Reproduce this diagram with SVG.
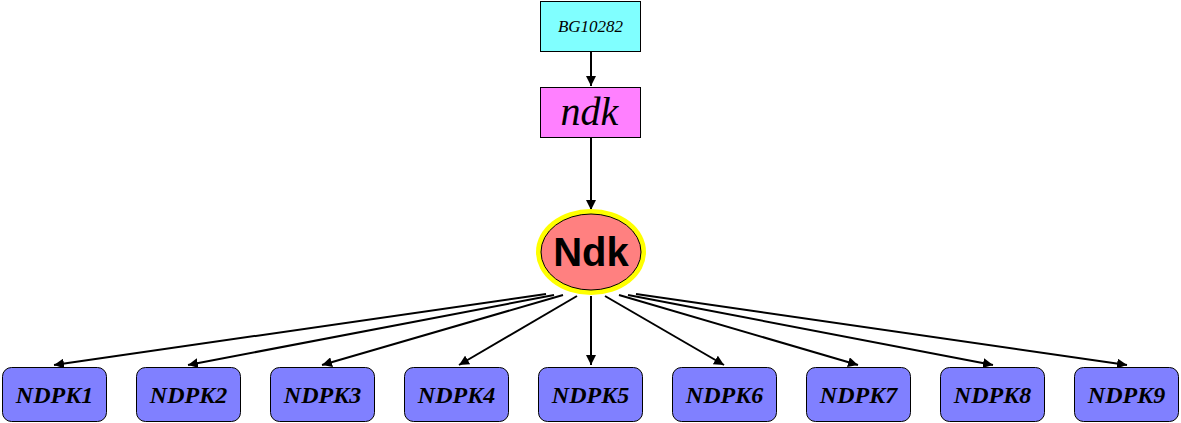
<svg xmlns="http://www.w3.org/2000/svg" width="1181" height="423" viewBox="0 0 1181 423">
<style>
.box{stroke:#000;stroke-width:1}
.gene{fill:#ff80ff}
.src{fill:#80ffff}
.prod{fill:#8080ff;stroke:#000;stroke-width:1}
.edge{stroke:#000;stroke-width:2;fill:none;marker-end:url(#arr)}
.lbl{font-family:"Liberation Serif",serif;font-style:italic;fill:#000;text-anchor:middle}
.plbl{font-family:"Liberation Serif",serif;font-style:italic;font-weight:bold;font-size:24px;fill:#000;text-anchor:middle}
</style>
<defs>
<marker id="arr" viewBox="0 0 10 10" refX="10" refY="5" markerWidth="5" markerHeight="5" orient="auto" markerUnits="strokeWidth">
<path d="M0,0 L10,5 L0,10 z" fill="#000"/>
</marker>
</defs>
<g id="connectors">
<line class="edge" x1="591" y1="51" x2="591" y2="86"/>
<line class="edge" x1="591" y1="137" x2="591" y2="210"/>
<line class="edge" x1="546" y1="294" x2="54" y2="365"/>
<line class="edge" x1="554" y1="295" x2="188" y2="365"/>
<line class="edge" x1="563" y1="295" x2="322" y2="365"/>
<line class="edge" x1="577" y1="296" x2="459" y2="365"/>
<line class="edge" x1="591" y1="296" x2="591" y2="365"/>
<line class="edge" x1="605" y1="296" x2="724" y2="365"/>
<line class="edge" x1="619" y1="295" x2="858" y2="365"/>
<line class="edge" x1="628" y1="295" x2="993" y2="365"/>
<line class="edge" x1="636" y1="294" x2="1127" y2="365"/>
</g>
<g id="BG10282">
<rect class="box src" x="540.5" y="1.5" width="100" height="50"/>
<text class="lbl" x="590.5" y="32" font-size="17">BG10282</text>
</g>
<g id="ndk">
<rect class="box gene" x="540.5" y="87.5" width="100" height="50"/>
<text class="lbl" x="589.5" y="125" font-size="40">ndk</text>
</g>
<g id="Ndk">
<ellipse cx="591" cy="252" rx="55" ry="43" fill="#ffff00"/>
<ellipse cx="591" cy="252" rx="50" ry="38" fill="#ff8080" stroke="#000" stroke-width="1"/>
<text x="591" y="266" font-family="Liberation Sans,Arial,sans-serif" font-weight="bold" font-size="40" text-anchor="middle" fill="#000">Ndk</text>
</g>
<g id="NDPK1"><rect class="prod" x="2.5" y="367.5" width="104" height="54" rx="9"/><text class="plbl" x="54.5" y="403">NDPK1</text></g>
<g id="NDPK2"><rect class="prod" x="136.5" y="367.5" width="104" height="54" rx="9"/><text class="plbl" x="188.5" y="403">NDPK2</text></g>
<g id="NDPK3"><rect class="prod" x="270.5" y="367.5" width="104" height="54" rx="9"/><text class="plbl" x="322.5" y="403">NDPK3</text></g>
<g id="NDPK4"><rect class="prod" x="404.5" y="367.5" width="104" height="54" rx="9"/><text class="plbl" x="456.5" y="403">NDPK4</text></g>
<g id="NDPK5"><rect class="prod" x="538.5" y="367.5" width="104" height="54" rx="9"/><text class="plbl" x="590.5" y="403">NDPK5</text></g>
<g id="NDPK6"><rect class="prod" x="672.5" y="367.5" width="104" height="54" rx="9"/><text class="plbl" x="724.5" y="403">NDPK6</text></g>
<g id="NDPK7"><rect class="prod" x="806.5" y="367.5" width="104" height="54" rx="9"/><text class="plbl" x="858.5" y="403">NDPK7</text></g>
<g id="NDPK8"><rect class="prod" x="940.5" y="367.5" width="104" height="54" rx="9"/><text class="plbl" x="992.5" y="403">NDPK8</text></g>
<g id="NDPK9"><rect class="prod" x="1074.5" y="367.5" width="104" height="54" rx="9"/><text class="plbl" x="1126.5" y="403">NDPK9</text></g>
</svg>
